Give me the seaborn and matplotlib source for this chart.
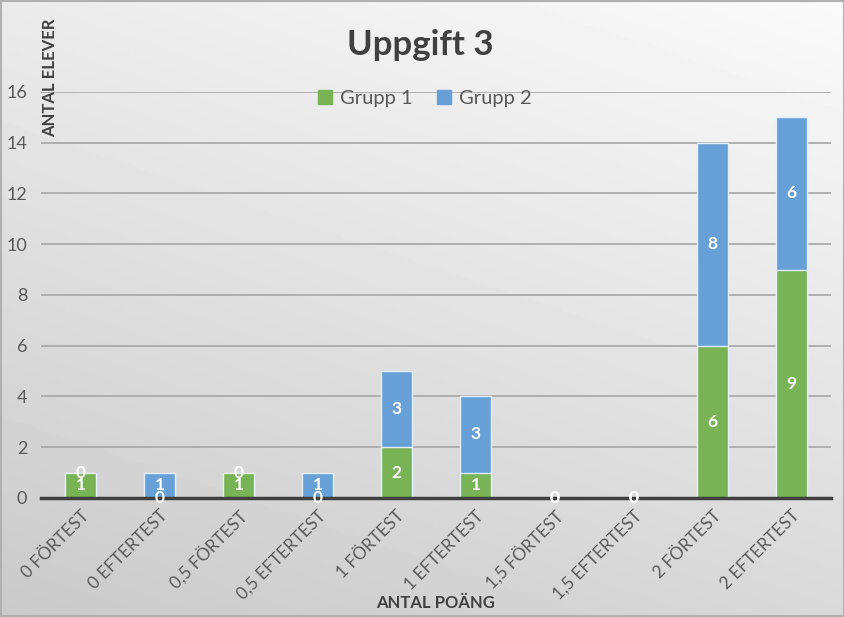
import numpy as np
import pandas as pd
import matplotlib
matplotlib.use('Agg')
import matplotlib.pyplot as plt
from matplotlib.patches import Patch
import seaborn as sns

# data
kategorier = ['0 FÖRTEST', '0 EFTERTEST', '0,5 FÖRTEST', '0,5 EFTERTEST', '1 FÖRTEST',
              '1 EFTERTEST', '1,5 FÖRTEST', '1,5 EFTERTEST', '2 FÖRTEST', '2 EFTERTEST']
grupp1 = [1, 0, 1, 0, 2, 1, 0, 0, 6, 9]
grupp2 = [0, 1, 0, 1, 3, 3, 0, 0, 8, 6]

gron = '#78b455'
bla = '#67a0d6'
kant = '#e3eef8'

sns.set_style('white')
plt.rcParams['font.family'] = ['Lato', 'DejaVu Sans']

df = pd.DataFrame({'kat': kategorier, 'g1': grupp1, 'g2': grupp2})
df['total'] = df['g1'] + df['g2']

fig = plt.figure(figsize=(8.45, 6.17), dpi=100)

# bakgrund med gradient
bg = fig.add_axes([0, 0, 1, 1], zorder=-10)
yy, xx = np.mgrid[0:1:200j, 0:1:200j]
grad = 0.79 + 0.13 * (1 - yy) + 0.06 * xx
bg.imshow(grad, cmap='gray', vmin=0, vmax=1, aspect='auto', extent=[0, 1, 0, 1])
bg.set_xlim(0, 1)
bg.set_ylim(0, 1)
bg.axis('off')

ax = fig.add_axes([0.0485, 0.193, 0.935, 0.658])
ax.patch.set_alpha(0)

sns.barplot(data=df, x='kat', y='total', color=bla, width=0.4, saturation=1,
            edgecolor=kant, linewidth=1, ax=ax, zorder=3)
sns.barplot(data=df, x='kat', y='g1', color=gron, width=0.4, saturation=1,
            edgecolor=kant, linewidth=1, ax=ax, zorder=4)

ax.set_ylim(0, 16)
ax.set_xlim(-0.5, len(kategorier) - 0.5)
ax.set_yticks(range(0, 17, 2))
ax.grid(axis='y', color='#a6a6a6', linewidth=1.2, zorder=0)
ax.set_axisbelow(True)
for s in ['top', 'right', 'left']:
    ax.spines[s].set_visible(False)
ax.spines['bottom'].set_color('#404040')
ax.spines['bottom'].set_linewidth(2.5)
ax.spines['bottom'].set_zorder(5)
ax.tick_params(axis='y', length=0, colors='#595959', labelsize=13, pad=10)
ax.tick_params(axis='x', length=0, colors='#595959', labelsize=12.3, pad=7)
plt.setp(ax.get_xticklabels(), rotation=45, ha='right', rotation_mode='anchor')
ax.set_xlabel('')
ax.set_ylabel('')

# datalabels
for i, (a, b) in enumerate(zip(grupp1, grupp2)):
    ax.text(i, a / 2, str(a), ha='center', va='center', color='white',
            fontsize=12.5, fontweight='bold', zorder=6)
    ax.text(i, a + b / 2, str(b), ha='center', va='center', color='white',
            fontsize=12.5, fontweight='bold', zorder=6)

fig.text(0.497, 0.927, 'Uppgift 3', ha='center', va='center', fontsize=25,
         fontweight='bold', color='#404040')
fig.text(0.059, 0.874, 'ANTAL ELEVER', ha='center', va='center', rotation=90,
         fontsize=12, fontweight='bold', color='#404040')
fig.text(0.515, 0.022, 'ANTAL POÄNG', ha='center', va='center', fontsize=12,
         fontweight='bold', color='#404040')

handles = [Patch(color=gron, label='Grupp 1'), Patch(color=bla, label='Grupp 2')]
fig.legend(handles=handles, loc='center', bbox_to_anchor=(0.503, 0.84), ncol=2,
           frameon=False, fontsize=14.5, labelcolor='#595959', handlelength=0.7,
           handleheight=0.7, handletextpad=0.4, columnspacing=1.2)

# ram runt diagrammet
bg.add_patch(plt.Rectangle((0.001, 0.001), 0.998, 0.997, fill=False,
                           edgecolor='#b0b0b0', linewidth=1.5))

fig.savefig('out.png', dpi=100)
